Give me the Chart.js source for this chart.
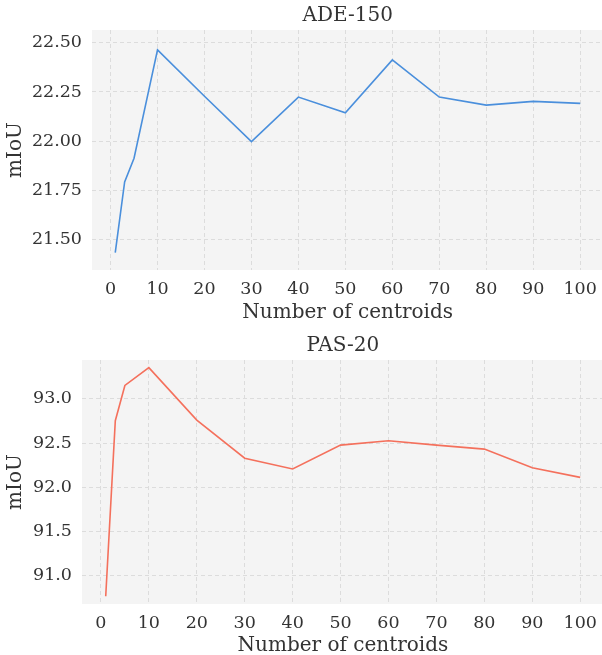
<!DOCTYPE html>
<html lang="en">

<head>
  <meta charset="UTF-8">
  <title>Number of centroids vs mIoU</title>
  <script src="https://cdn.jsdelivr.net/npm/chart.js"></script>
  <style>
    * {
      margin: 0;
      padding: 0;
      box-sizing: border-box;
    }

    html,
    body {
      width: 602px;
      height: 655px;
      overflow: hidden;
      background: #ffffff;
    }

    /* panels are a few px wider/taller than the window, the page clips them */
    .panel {
      position: relative;
      width: 606px;
    }

    canvas {
      display: block;
    }
  </style>
</head>

<body>
  <div class="panel" style="height: 330px;">
    <canvas id="adeChart" width="606" height="330"></canvas>
  </div>
  <div class="panel" style="height: 342px;">
    <canvas id="pasChart" width="606" height="342"></canvas>
  </div>

  <script>
    // number of centroids (shared x values)
    const centroids = [1, 3, 5, 10, 20, 30, 40, 50, 60, 70, 80, 90, 100];

    // mIoU
    const adeMiou = [21.433, 21.793, 21.913, 22.464, 22.228, 21.998, 22.224, 22.144, 22.413, 22.224, 22.183, 22.202, 22.192];
    const pasMiou = [90.768, 92.753, 93.152, 93.354, 92.760, 92.329, 92.207, 92.477, 92.526, 92.477, 92.432, 92.222, 92.112];

    const xTicks = [0, 10, 20, 30, 40, 50, 60, 70, 80, 90, 100];
    const adeTicks = [21.50, 21.75, 22.00, 22.25, 22.50];
    const pasTicks = [91.0, 91.5, 92.0, 92.5, 93.0];

    const textColor = '#333333';
    const gridColor = '#dcdcdc';
    const serif = "'DejaVu Serif', serif";

    // grey background behind the plot area
    const plotBackground = {
      id: 'plotBackground',
      beforeDraw(chart) {
        const { ctx, chartArea } = chart;
        ctx.save();
        ctx.fillStyle = '#f4f4f4';
        ctx.fillRect(chartArea.left, chartArea.top, chartArea.right - chartArea.left, chartArea.bottom - chartArea.top);
        ctx.restore();
      }
    };

    function makeChart(id, opts) {
      const ctx = document.getElementById(id).getContext('2d');
      return new Chart(ctx, {
        type: 'line',
        data: {
          datasets: [{
            data: centroids.map((c, i) => ({ x: c, y: opts.values[i] })),
            borderColor: opts.color,
            borderWidth: 1.6,
            pointRadius: 0,
            fill: false,
            tension: 0,
          }],
        },
        options: {
          responsive: false,
          animation: false,
          layout: { padding: 0 },
          plugins: {
            legend: { display: false },
            tooltip: { enabled: false },
            title: {
              display: true,
              fullSize: false, // centre over the plot, like the axis title
              text: opts.title,
              color: textColor,
              font: { family: serif, size: 20, weight: 'normal', lineHeight: 1 },
              padding: { top: 6, bottom: 4 },
            },
          },
          scales: {
            x: {
              type: 'linear',
              min: -3.95,
              max: 104.95,
              afterBuildTicks: (scale) => { scale.ticks = xTicks.map(v => ({ value: v })); },
              afterFit: (scale) => { scale.height = opts.xHeight; },
              border: { display: false, dash: [4, 3] },
              grid: { color: gridColor, lineWidth: 1, drawTicks: false },
              ticks: { color: textColor, padding: 9, font: { family: serif, size: 17.5 }, maxRotation: 0 },
              title: {
                display: true,
                text: 'Number of centroids',
                color: textColor,
                font: { family: serif, size: 20 },
                padding: { top: 0, bottom: opts.xTitlePad },
              },
            },
            y: {
              min: opts.yMin,
              max: opts.yMax,
              afterBuildTicks: (scale) => { scale.ticks = opts.ticks.map(v => ({ value: v })); },
              afterFit: (scale) => { scale.width = opts.yWidth; },
              border: { display: false, dash: [4, 3] },
              grid: { color: gridColor, lineWidth: 1, drawTicks: false },
              ticks: {
                color: textColor,
                padding: 10,
                font: { family: serif, size: 17.5 },
                callback: (v) => v.toFixed(opts.digits),
              },
              title: {
                display: true,
                text: 'mIoU',
                color: textColor,
                font: { family: serif, size: 20 },
                padding: { top: 4, bottom: 0 },
              },
            },
          },
        },
        plugins: [plotBackground],
      });
    }

    makeChart('adeChart', {
      title: 'ADE-150',
      values: adeMiou,
      color: '#4a8fdc',
      yMin: 21.345,
      yMax: 22.565,
      ticks: adeTicks,
      digits: 2,
      yWidth: 92,
      xHeight: 60,
      xTitlePad: 5,
    });

    makeChart('pasChart', {
      title: 'PAS-20',
      values: pasMiou,
      color: '#f4705c',
      yMin: 90.68,
      yMax: 93.44,
      ticks: pasTicks,
      digits: 1,
      yWidth: 82,
      xHeight: 68,
      xTitlePad: 14,
    });
  </script>
</body>

</html>
